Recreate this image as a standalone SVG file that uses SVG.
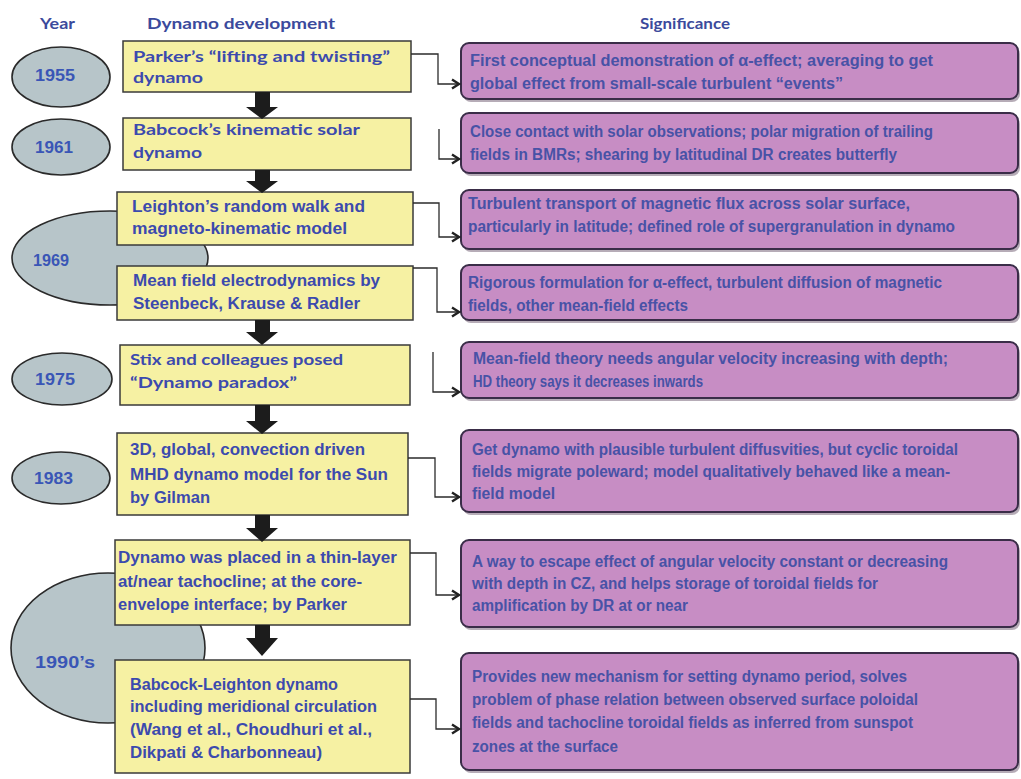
<svg xmlns="http://www.w3.org/2000/svg" width="1021" height="779" viewBox="0 0 1021 779">
<defs>
<style>
.hdr{font-family:Lato,"Liberation Sans",sans-serif;font-weight:bold;font-size:16px;fill:#3b4a9c}
.yr{font-family:"Liberation Sans",Arial,sans-serif;font-weight:bold;font-size:16px;fill:#3a56b6}
.ybox{fill:#f6f1a3;stroke:#3a3a3a;stroke-width:1.5}
.yl{font-family:Lato,"Liberation Sans",sans-serif;font-weight:bold;font-size:16px;fill:#3c4aae}
.ya{font-family:"Liberation Sans",Arial,sans-serif;font-weight:bold;font-size:16px;fill:#3c4aae}
.pbox{fill:#c78dc4;stroke:#3a2d48;stroke-width:2}
.pshadow{fill:#6e5a70;opacity:0.5}
.pt{font-family:"Liberation Sans",Arial,sans-serif;font-weight:bold;font-size:16px;fill:#4852a6}
.ell{fill:#b7c5c9;stroke:#2a2a2a;stroke-width:1.6}
.down{fill:#1c1c1c}
.conn{fill:none;stroke:#2b2b2b;stroke-width:1.3}
</style>
<marker id="arr" markerUnits="userSpaceOnUse" markerWidth="12" markerHeight="12" refX="9" refY="6" orient="auto">
<path d="M2,1.5 L9,6 L2,10.5" fill="none" stroke="#222" stroke-width="2.4"/>
</marker>
</defs>
<rect x="0" y="0" width="1021" height="779" fill="#ffffff"/>

<g id="headers">
<text class="hdr" x="40" y="29" textLength="35" lengthAdjust="spacingAndGlyphs">Year</text>
<text class="hdr" x="147" y="29" textLength="188" lengthAdjust="spacingAndGlyphs">Dynamo development</text>
<text class="hdr" x="640" y="29" textLength="90" lengthAdjust="spacingAndGlyphs">Significance</text>
</g>

<g id="year-1955"><ellipse class="ell" cx="61" cy="77" rx="49" ry="30"/><text class="yr" x="35" y="81" textLength="40" lengthAdjust="spacingAndGlyphs">1955</text></g>
<g id="year-1961"><ellipse class="ell" cx="61" cy="147" rx="49" ry="28"/><text class="yr" x="35" y="153" textLength="38" lengthAdjust="spacingAndGlyphs">1961</text></g>
<g id="year-1969"><ellipse class="ell" cx="110" cy="258" rx="98" ry="47"/><text class="yr" x="33" y="266" textLength="36" lengthAdjust="spacingAndGlyphs">1969</text></g>
<g id="year-1975"><ellipse class="ell" cx="62" cy="379" rx="50" ry="26"/><text class="yr" x="35" y="385" textLength="40" lengthAdjust="spacingAndGlyphs">1975</text></g>
<g id="year-1983"><ellipse class="ell" cx="61" cy="478" rx="49" ry="26"/><text class="yr" x="34" y="484" textLength="39" lengthAdjust="spacingAndGlyphs">1983</text></g>
<g id="year-1990s"><ellipse class="ell" cx="108" cy="648" rx="97" ry="75"/><text class="yr" x="35" y="668" textLength="60" lengthAdjust="spacingAndGlyphs">1990’s</text></g>

<g id="dev-parker">
<rect class="ybox" x="123" y="41" width="288" height="51"/>
<text class="yl" x="133" y="62" textLength="257" lengthAdjust="spacingAndGlyphs">Parker’s “lifting and twisting”</text>
<text class="yl" x="133" y="83" textLength="70" lengthAdjust="spacingAndGlyphs">dynamo</text>
</g>
<g id="dev-babcock">
<rect class="ybox" x="123" y="118" width="288" height="52"/>
<text class="yl" x="133" y="135" textLength="227" lengthAdjust="spacingAndGlyphs">Babcock’s kinematic solar</text>
<text class="yl" x="133" y="158" textLength="69" lengthAdjust="spacingAndGlyphs">dynamo</text>
</g>
<g id="dev-leighton">
<rect class="ybox" x="117" y="192" width="296" height="53"/>
<text class="ya" x="132" y="212" textLength="233" lengthAdjust="spacingAndGlyphs">Leighton’s random walk and</text>
<text class="ya" x="132" y="234" textLength="215" lengthAdjust="spacingAndGlyphs">magneto-kinematic model</text>
</g>
<g id="dev-meanfield">
<rect class="ybox" x="117" y="266" width="296" height="54"/>
<text class="ya" x="133" y="286" textLength="247" lengthAdjust="spacingAndGlyphs">Mean field electrodynamics by</text>
<text class="ya" x="133" y="309" textLength="227" lengthAdjust="spacingAndGlyphs">Steenbeck, Krause &amp; Radler</text>
</g>
<g id="dev-stix">
<rect class="ybox" x="120" y="345" width="290" height="60"/>
<text class="yl" x="130" y="365" textLength="213" lengthAdjust="spacingAndGlyphs">Stix and colleagues posed</text>
<text class="yl" x="130" y="388" textLength="167" lengthAdjust="spacingAndGlyphs">“Dynamo paradox”</text>
</g>
<g id="dev-gilman">
<rect class="ybox" x="117" y="433" width="291" height="82"/>
<text class="ya" x="130" y="455" textLength="235" lengthAdjust="spacingAndGlyphs">3D, global, convection driven</text>
<text class="ya" x="130" y="480" textLength="258" lengthAdjust="spacingAndGlyphs">MHD dynamo model for the Sun</text>
<text class="ya" x="130" y="503" textLength="80" lengthAdjust="spacingAndGlyphs">by Gilman</text>
</g>
<g id="dev-thinlayer">
<rect class="ybox" x="115" y="540" width="295" height="85"/>
<text class="ya" x="118" y="563" textLength="279" lengthAdjust="spacingAndGlyphs">Dynamo was placed in a thin-layer</text>
<text class="ya" x="118" y="587" textLength="244" lengthAdjust="spacingAndGlyphs">at/near tachocline; at the core-</text>
<text class="ya" x="118" y="610" textLength="229" lengthAdjust="spacingAndGlyphs">envelope interface; by Parker</text>
</g>
<g id="dev-bl">
<rect class="ybox" x="115" y="660" width="295" height="113"/>
<text class="ya" x="130" y="690" textLength="208" lengthAdjust="spacingAndGlyphs">Babcock-Leighton dynamo</text>
<text class="ya" x="130" y="712" textLength="247" lengthAdjust="spacingAndGlyphs">including meridional circulation</text>
<text class="ya" x="130" y="735" textLength="242" lengthAdjust="spacingAndGlyphs">(Wang et al., Choudhuri et al.,</text>
<text class="ya" x="130" y="758" textLength="192" lengthAdjust="spacingAndGlyphs">Dikpati &amp; Charbonneau)</text>
</g>

<g id="sig-1">
<rect class="pshadow" x="463" y="46" width="557" height="56" rx="8"/>
<rect class="pbox" x="461" y="43" width="557" height="56" rx="8"/>
<text class="pt" x="470" y="66" textLength="463" lengthAdjust="spacingAndGlyphs">First conceptual demonstration of α-effect; averaging to get</text>
<text class="pt" x="470" y="89" textLength="373" lengthAdjust="spacingAndGlyphs">global effect from small-scale turbulent “events”</text>
</g>
<g id="sig-2">
<rect class="pshadow" x="463" y="116" width="557" height="60" rx="8"/>
<rect class="pbox" x="461" y="113" width="557" height="60" rx="8"/>
<text class="pt" x="470" y="137" textLength="463" lengthAdjust="spacingAndGlyphs">Close contact with solar observations; polar migration of trailing</text>
<text class="pt" x="470" y="160" textLength="427" lengthAdjust="spacingAndGlyphs">fields in BMRs; shearing by latitudinal DR creates butterfly</text>
</g>
<g id="sig-3">
<rect class="pshadow" x="463" y="193" width="557" height="59" rx="8"/>
<rect class="pbox" x="461" y="190" width="557" height="59" rx="8"/>
<text class="pt" x="468" y="209" textLength="442" lengthAdjust="spacingAndGlyphs">Turbulent transport of magnetic flux across solar surface,</text>
<text class="pt" x="468" y="232" textLength="487" lengthAdjust="spacingAndGlyphs">particularly in latitude; defined role of supergranulation in dynamo</text>
</g>
<g id="sig-4">
<rect class="pshadow" x="463" y="268" width="557" height="55" rx="8"/>
<rect class="pbox" x="461" y="265" width="557" height="55" rx="8"/>
<text class="pt" x="468" y="288" textLength="474" lengthAdjust="spacingAndGlyphs">Rigorous formulation for α-effect, turbulent diffusion of magnetic</text>
<text class="pt" x="468" y="311" textLength="220" lengthAdjust="spacingAndGlyphs">fields, other mean-field effects</text>
</g>
<g id="sig-5">
<rect class="pshadow" x="463" y="345" width="557" height="56" rx="8"/>
<rect class="pbox" x="461" y="342" width="557" height="56" rx="8"/>
<text class="pt" x="473" y="364" textLength="475" lengthAdjust="spacingAndGlyphs">Mean-field theory needs angular velocity increasing with depth;</text>
<text class="pt" x="473" y="387" textLength="230" lengthAdjust="spacingAndGlyphs">HD theory says it decreases inwards</text>
</g>
<g id="sig-6">
<rect class="pshadow" x="463" y="433" width="557" height="82" rx="8"/>
<rect class="pbox" x="461" y="430" width="557" height="82" rx="8"/>
<text class="pt" x="472" y="455" textLength="486" lengthAdjust="spacingAndGlyphs">Get dynamo with plausible turbulent diffusvities, but cyclic toroidal</text>
<text class="pt" x="472" y="477" textLength="478" lengthAdjust="spacingAndGlyphs">fields migrate poleward; model qualitatively behaved like a mean-</text>
<text class="pt" x="472" y="499" textLength="83" lengthAdjust="spacingAndGlyphs">field model</text>
</g>
<g id="sig-7">
<rect class="pshadow" x="463" y="543" width="557" height="87" rx="8"/>
<rect class="pbox" x="461" y="540" width="557" height="87" rx="8"/>
<text class="pt" x="472" y="567" textLength="476" lengthAdjust="spacingAndGlyphs">A way to escape effect of angular velocity constant or decreasing</text>
<text class="pt" x="472" y="589" textLength="406" lengthAdjust="spacingAndGlyphs">with depth in CZ, and helps storage of toroidal fields for</text>
<text class="pt" x="472" y="611" textLength="216" lengthAdjust="spacingAndGlyphs">amplification by DR at or near</text>
</g>
<g id="sig-8">
<rect class="pshadow" x="463" y="656" width="557" height="117" rx="8"/>
<rect class="pbox" x="461" y="653" width="557" height="117" rx="8"/>
<text class="pt" x="472" y="682" textLength="435" lengthAdjust="spacingAndGlyphs">Provides new mechanism for setting dynamo period, solves</text>
<text class="pt" x="472" y="705" textLength="446" lengthAdjust="spacingAndGlyphs">problem of phase relation between observed surface poloidal</text>
<text class="pt" x="472" y="728" textLength="441" lengthAdjust="spacingAndGlyphs">fields and tachocline toroidal fields as inferred from sunspot</text>
<text class="pt" x="472" y="752" textLength="146" lengthAdjust="spacingAndGlyphs">zones at the surface</text>
</g>

<g id="connectors">
<polygon class="down" points="255,92 270,92 270,107 278,107 262,119 246,107 255,107"/>
<polygon class="down" points="255,170 270,170 270,181 278,181 262,193 246,181 255,181"/>
<polygon class="down" points="255,320 270,320 270,332 278,332 262,345 246,332 255,332"/>
<polygon class="down" points="255,405 270,405 270,421 278,421 262,434 246,421 255,421"/>
<polygon class="down" points="255,515 270,515 270,528 278,528 262,542 246,528 255,528"/>
<polygon class="down" points="255,625 270,625 270,638 278,638 262,656 246,638 255,638"/>
<path class="conn" d="M411,54 H438 V84 H459" marker-end="url(#arr)"/>
<path class="conn" d="M439,129 V159 H459" marker-end="url(#arr)"/>
<path class="conn" d="M413,203 H439 V237 H459" marker-end="url(#arr)"/>
<path class="conn" d="M413,268 H437 V312 H459" marker-end="url(#arr)"/>
<path class="conn" d="M433,352 V392 H459" marker-end="url(#arr)"/>
<path class="conn" d="M408,458 H435 V497 H459" marker-end="url(#arr)"/>
<path class="conn" d="M410,553 H436 V595 H459" marker-end="url(#arr)"/>
<path class="conn" d="M410,699 H436 V729 H459" marker-end="url(#arr)"/>
</g>
</svg>
